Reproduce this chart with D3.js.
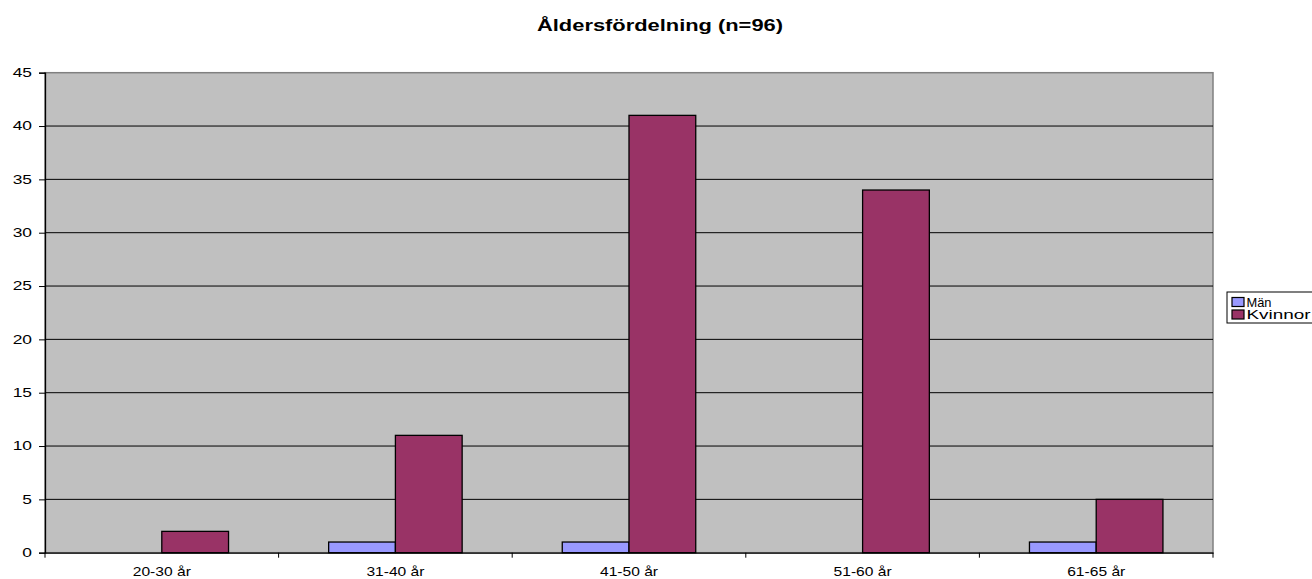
<!DOCTYPE html>
<html>
<head>
<meta charset="utf-8">
<script src="https://cdn.jsdelivr.net/npm/d3@7"></script>
<style>
  html, body { margin: 0; padding: 0; background: #fff; }
  svg { display: block; font-family: "Liberation Sans", Arial, sans-serif; }
</style>
</head>
<body>
<svg id="chart" width="1312" height="579"></svg>
<script>
// Age distribution by gender
const categories = ["20-30 år", "31-40 år", "41-50 år", "51-60 år", "61-65 år"];
const seriesNames = ["Män", "Kvinnor"];
const manValues = [0, 1, 1, 0, 1];
const womenValues = [2, 11, 41, 34, 5];
const yTicks = [0, 5, 10, 15, 20, 25, 30, 35, 40, 45];
const colors = ["#9999FF", "#993366"];
const title = "Åldersfördelning (n=96)";

const svg = d3.select("#chart");
const plot = { left: 45, right: 1213, top: 72.7, bottom: 552.7 };

const x = d3.scaleBand().domain(categories).range([plot.left, plot.right]).padding(0);
const y = d3.scaleLinear().domain([0, 45]).range([plot.bottom, plot.top]);

// plot background
svg.append("rect")
  .attr("x", plot.left).attr("y", plot.top)
  .attr("width", plot.right - plot.left).attr("height", plot.bottom - plot.top)
  .attr("fill", "#C0C0C0").attr("stroke", "#808080").attr("stroke-width", 1.5);

// horizontal gridlines
svg.append("g").selectAll("line").data(yTicks.filter(d => d > 0 && d < 45)).join("line")
  .attr("x1", plot.left).attr("x2", plot.right)
  .attr("y1", d => y(d)).attr("y2", d => y(d))
  .attr("stroke", "#000").attr("stroke-width", 1);

// bars: two per category, gap width 150%
const bw = x.bandwidth() / 3.5;
const series = [manValues, womenValues];
series.forEach((vals, si) => {
  svg.append("g").selectAll("rect").data(vals.map((v, i) => ({ v, c: categories[i] }))).join("rect")
    .filter(d => d.v > 0)
    .attr("x", d => x(d.c) + x.bandwidth() / 2 + (si - 1) * bw)
    .attr("y", d => y(d.v))
    .attr("width", bw)
    .attr("height", d => y(0) - y(d.v))
    .attr("fill", colors[si])
    .attr("stroke", "#000").attr("stroke-width", 1.3);
});

// y axis
const yAxis = d3.axisLeft(y).tickValues(yTicks).tickSize(6).tickFormat("");
const gy = svg.append("g").attr("transform", `translate(${plot.left},0)`).call(yAxis);
gy.select(".domain").attr("stroke", "#000").attr("stroke-width", 1.3);
// y labels, drawn horizontally widened
svg.append("g").selectAll("text").data(yTicks).join("text")
  .attr("transform", d => `translate(${plot.left - 13},${y(d) + 4.3}) scale(1.45,1)`)
  .attr("text-anchor", "end")
  .attr("font-size", 12)
  .attr("fill", "#000")
  .text(d => d);

// x axis
const xAxis = d3.axisBottom(x).tickSize(0).tickFormat("");
const gx = svg.append("g").attr("transform", `translate(0,${plot.bottom})`).call(xAxis);
gx.select(".domain").attr("stroke", "#000").attr("stroke-width", 1.3);
svg.append("g").selectAll("text").data(categories).join("text")
  .attr("transform", d => `translate(${x(d) + x.bandwidth() / 2},${plot.bottom + 23}) scale(1.3,1)`)
  .attr("text-anchor", "middle")
  .attr("font-size", 12)
  .attr("fill", "#000")
  .text(d => d);
// tick marks at category boundaries
svg.append("g").selectAll("line")
  .data(categories.map(c => x(c)).concat([plot.right]))
  .join("line")
  .attr("x1", d => d).attr("x2", d => d)
  .attr("y1", plot.bottom).attr("y2", plot.bottom + 5)
  .attr("stroke", "#000").attr("stroke-width", 1);

// title
svg.append("text")
  .attr("x", 660).attr("y", 31)
  .attr("text-anchor", "middle")
  .attr("font-size", 16).attr("font-weight", "bold")
  .attr("textLength", 246).attr("lengthAdjust", "spacingAndGlyphs")
  .text(title);

// legend
const lg = svg.append("g").attr("transform", "translate(1227,292)");
lg.append("rect").attr("x", 0).attr("y", 0).attr("width", 100).attr("height", 31)
  .attr("fill", "#fff").attr("stroke", "#000").attr("stroke-width", 1);
const legendWidths = [25, 64];
seriesNames.forEach((n, i) => {
  lg.append("rect").attr("x", 5).attr("y", 5.5 + i * 12.5).attr("width", 12).attr("height", 9)
    .attr("fill", colors[i]).attr("stroke", "#000").attr("stroke-width", 1.2);
  lg.append("text").attr("x", 19.5).attr("y", 14.5 + i * 12.5)
    .attr("font-size", 13)
    .attr("textLength", legendWidths[i]).attr("lengthAdjust", "spacingAndGlyphs")
    .text(n);
});
</script>
</body>
</html>
